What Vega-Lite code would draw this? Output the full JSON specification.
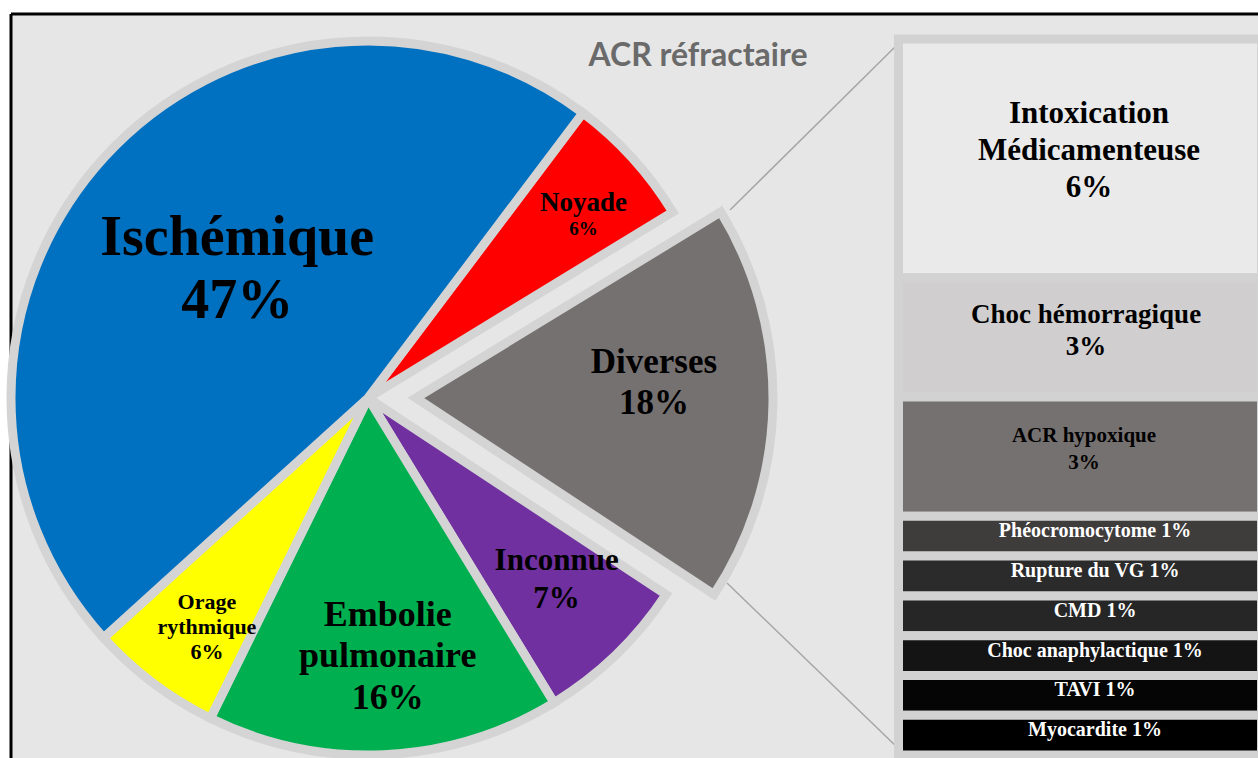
{
  "$schema": "https://vega.github.io/schema/vega-lite/v6.json",
  "width": 1247,
  "height": 744,
  "autosize": {"type": "none"},
  "padding": {"left": 11, "top": 14, "right": 0, "bottom": 0},
  "background": "white",
  "config": {"view": {"fill": "#e6e6e6", "stroke": null}, "axis": {"disable": true}},
  "resolve": {"scale": {"y": "independent", "color": "independent"}},
  "layer": [
    {
      "data": {"values": [
        {"cause": "Noyade", "pct": 6, "ord": 1},
        {"cause": "Diverses", "pct": 18, "ord": 2},
        {"cause": "Inconnue", "pct": 7, "ord": 3},
        {"cause": "Embolie pulmonaire", "pct": 16, "ord": 4},
        {"cause": "Orage rythmique", "pct": 6, "ord": 5},
        {"cause": "Ischémique", "pct": 47, "ord": 6}
      ]},
      "transform": [
        {"stack": "pct", "groupby": [], "sort": [{"field": "ord", "order": "ascending"}], "as": ["s0", "s1"]},
        {"calculate": "(datum.s0 + datum.s1) / 2", "as": "mid"},
        {"calculate": "datum.cause + ' ' + datum.pct + '%'", "as": "lab"},
        {"calculate": "datum.pct + '%'", "as": "pctLab"}
      ],
      "layer": [
        {
          "transform": [{"filter": "datum.ord === 1"}],
          "mark": {"type": "rule", "color": "black", "strokeWidth": 3},
          "encoding": {
            "x": {"datum": 0, "type": "quantitative", "axis": null, "scale": {"type": "linear", "domain": [0, 1247], "nice": false, "zero": false}},
            "y": {"datum": 0, "type": "quantitative", "axis": null, "scale": {"type": "linear", "domain": [0, 744], "nice": false, "zero": false, "reverse": true}},
            "y2": {"datum": 744}
          }
        },
        {
          "transform": [{"filter": "datum.ord === 1"}],
          "mark": {"type": "rule", "color": "black", "strokeWidth": 3},
          "encoding": {
            "x": {"datum": 0, "type": "quantitative", "axis": null},
            "x2": {"datum": 1247},
            "y": {"datum": 0, "type": "quantitative", "axis": null}
          }
        },
        {
          "transform": [{"filter": "datum.ord === 1"}],
          "mark": {"type": "rule", "color": "#a6a6a6", "strokeWidth": 1.5},
          "encoding": {
            "x": {"datum": 719, "type": "quantitative", "axis": null},
            "x2": {"datum": 889},
            "y": {"datum": 196, "type": "quantitative", "axis": null},
            "y2": {"datum": 28}
          }
        },
        {
          "transform": [{"filter": "datum.ord === 1"}],
          "mark": {"type": "rule", "color": "#a6a6a6", "strokeWidth": 1.5},
          "encoding": {
            "x": {"datum": 716, "type": "quantitative", "axis": null},
            "x2": {"datum": 889},
            "y": {"datum": 569, "type": "quantitative", "axis": null},
            "y2": {"datum": 736}
          }
        },
        {
          "transform": [{"filter": "datum.ord === 1"}],
          "mark": {"type": "text", "font": "Lato", "fontWeight": "bold", "fontSize": 32, "color": "#6a6a6a", "align": "center", "baseline": "alphabetic"},
          "encoding": {
            "x": {"datum": 687, "type": "quantitative", "axis": null},
            "y": {"datum": 52, "type": "quantitative", "axis": null},
            "text": {"value": "ACR réfractaire"}
          }
        },
        {
          "transform": [{"filter": "datum.cause !== 'Diverses'"}],
          "mark": {"type": "arc", "radius": 357, "stroke": "#d4d4d4", "strokeWidth": 9},
          "encoding": {
            "theta": {"field": "s0", "type": "quantitative", "stack": null, "scale": {"type": "linear", "domain": [0, 100], "range": [0.6458, 6.929], "zero": false, "nice": false}},
            "theta2": {"field": "s1"},
            "color": {"field": "cause", "type": "nominal", "legend": null, "scale": {
              "domain": ["Noyade", "Diverses", "Inconnue", "Embolie pulmonaire", "Orage rythmique", "Ischémique"],
              "range": ["#ff0000", "#767171", "#7030a0", "#00b050", "#ffff00", "#0070c0"]}},
            "x": {"datum": 357, "type": "quantitative", "axis": null},
            "y": {"datum": 384, "type": "quantitative", "axis": null}
          }
        },
        {
          "transform": [{"filter": "datum.cause === 'Diverses'"}],
          "mark": {"type": "arc", "radius": 357, "stroke": "#d4d4d4", "strokeWidth": 9},
          "encoding": {
            "theta": {"field": "s0", "type": "quantitative", "stack": null},
            "theta2": {"field": "s1"},
            "color": {"field": "cause", "type": "nominal", "legend": null},
            "x": {"datum": 405, "type": "quantitative", "axis": null},
            "y": {"datum": 384, "type": "quantitative", "axis": null}
          }
        },
        {
          "transform": [{"filter": "datum.cause === 'Ischémique'"}],
          "mark": {"type": "text", "radius": 184, "dx": 5, "dy": -36, "font": "Liberation Serif", "fontWeight": "bold", "fontSize": 56, "lineHeight": 63, "lineBreak": " ", "align": "center", "baseline": "middle", "color": "black"},
          "encoding": {
            "theta": {"field": "mid", "type": "quantitative", "stack": null},
            "text": {"field": "lab"},
            "x": {"datum": 357, "type": "quantitative", "axis": null},
            "y": {"datum": 384, "type": "quantitative", "axis": null}
          }
        },
        {
          "transform": [{"filter": "datum.cause === 'Noyade'"}],
          "mark": {"type": "text", "radius": 291, "font": "Liberation Serif", "fontWeight": "bold", "fontSize": 27, "align": "center", "baseline": "middle", "color": "black"},
          "encoding": {
            "theta": {"field": "mid", "type": "quantitative", "stack": null},
            "text": {"field": "cause"},
            "x": {"datum": 357, "type": "quantitative", "axis": null},
            "y": {"datum": 384, "type": "quantitative", "axis": null}
          }
        },
        {
          "transform": [{"filter": "datum.cause === 'Noyade'"}],
          "mark": {"type": "text", "radius": 291, "dy": 26, "font": "Liberation Serif", "fontWeight": "bold", "fontSize": 19, "align": "center", "baseline": "middle", "color": "black"},
          "encoding": {
            "theta": {"field": "mid", "type": "quantitative", "stack": null},
            "text": {"field": "pctLab"},
            "x": {"datum": 357, "type": "quantitative", "axis": null},
            "y": {"datum": 384, "type": "quantitative", "axis": null}
          }
        },
        {
          "transform": [{"filter": "datum.cause === 'Diverses'"}],
          "mark": {"type": "text", "radius": 238, "dy": -40, "font": "Liberation Serif", "fontWeight": "bold", "fontSize": 35, "lineHeight": 41, "lineBreak": " ", "align": "center", "baseline": "middle", "color": "black"},
          "encoding": {
            "theta": {"field": "mid", "type": "quantitative", "stack": null},
            "text": {"field": "lab"},
            "x": {"datum": 405, "type": "quantitative", "axis": null},
            "y": {"datum": 384, "type": "quantitative", "axis": null}
          }
        },
        {
          "transform": [{"filter": "datum.cause === 'Inconnue'"}],
          "mark": {"type": "text", "radius": 260, "dx": 8, "dy": -24, "font": "Liberation Serif", "fontWeight": "bold", "fontSize": 31, "lineHeight": 38, "lineBreak": " ", "align": "center", "baseline": "middle", "color": "black"},
          "encoding": {
            "theta": {"field": "mid", "type": "quantitative", "stack": null},
            "text": {"field": "lab"},
            "x": {"datum": 357, "type": "quantitative", "axis": null},
            "y": {"datum": 384, "type": "quantitative", "axis": null}
          }
        },
        {
          "transform": [{"filter": "datum.cause === 'Embolie pulmonaire'"}],
          "mark": {"type": "text", "radius": 259, "dx": 8, "dy": -42, "font": "Liberation Serif", "fontWeight": "bold", "fontSize": 36, "lineHeight": 41.5, "lineBreak": " ", "align": "center", "baseline": "middle", "color": "black"},
          "encoding": {
            "theta": {"field": "mid", "type": "quantitative", "stack": null},
            "text": {"field": "lab"},
            "x": {"datum": 357, "type": "quantitative", "axis": null},
            "y": {"datum": 384, "type": "quantitative", "axis": null}
          }
        },
        {
          "transform": [{"filter": "datum.cause === 'Orage rythmique'"}],
          "mark": {"type": "text", "radius": 281, "dx": 8, "dy": -20, "font": "Liberation Serif", "fontWeight": "bold", "fontSize": 22, "lineHeight": 25, "lineBreak": " ", "align": "center", "baseline": "middle", "color": "black"},
          "encoding": {
            "theta": {"field": "mid", "type": "quantitative", "stack": null},
            "text": {"field": "lab"},
            "x": {"datum": 357, "type": "quantitative", "axis": null},
            "y": {"datum": 384, "type": "quantitative", "axis": null}
          }
        }
      ]
    },
    {
      "data": {"values": [
        {"cause": "Intoxication Médicamenteuse", "pct": 6, "ord": 1},
        {"cause": "Choc hémorragique", "pct": 3, "ord": 2},
        {"cause": "ACR hypoxique", "pct": 3, "ord": 3},
        {"cause": "Phéocromocytome", "pct": 1, "ord": 4},
        {"cause": "Rupture du VG", "pct": 1, "ord": 5},
        {"cause": "CMD", "pct": 1, "ord": 6},
        {"cause": "Choc anaphylactique", "pct": 1, "ord": 7},
        {"cause": "TAVI", "pct": 1, "ord": 8},
        {"cause": "Myocardite", "pct": 1, "ord": 9}
      ]},
      "transform": [
        {"stack": "pct", "groupby": [], "sort": [{"field": "ord", "order": "ascending"}], "as": ["s0", "s1"]},
        {"calculate": "(datum.s0 + datum.s1) / 2", "as": "mid"},
        {"calculate": "datum.cause + ' ' + datum.pct + '%'", "as": "lab"},
        {"calculate": "datum.cause + '|' + datum.pct + '%'", "as": "lab2"}
      ],
      "layer": [
        {
          "mark": {"type": "rect", "stroke": "#d2d2d2", "strokeWidth": 9},
          "encoding": {
            "x": {"datum": 887.5, "type": "quantitative", "axis": null},
            "x2": {"datum": 1250.5},
            "y": {"field": "s0", "type": "quantitative", "axis": null, "scale": {"type": "linear", "domain": [-0.6285, 18.0755], "nice": false, "zero": false, "reverse": true}},
            "y2": {"field": "s1"},
            "color": {"field": "cause", "type": "nominal", "legend": null, "scale": {
              "domain": ["Intoxication Médicamenteuse", "Choc hémorragique", "ACR hypoxique", "Phéocromocytome", "Rupture du VG", "CMD", "Choc anaphylactique", "TAVI", "Myocardite"],
              "range": ["#eaeaea", "#d0cece", "#767171", "#3f3c3c", "#2b2b2b", "#262626", "#141414", "#050505", "#000000"]}}
          }
        },
        {
          "transform": [{"filter": "datum.ord === 1"}],
          "mark": {"type": "text", "dy": -44, "font": "Liberation Serif", "fontWeight": "bold", "fontSize": 31, "lineHeight": 37, "lineBreak": " ", "align": "center", "baseline": "middle", "color": "black"},
          "encoding": {
            "x": {"datum": 1078, "type": "quantitative", "axis": null},
            "y": {"field": "mid", "type": "quantitative", "axis": null},
            "text": {"field": "lab"}
          }
        },
        {
          "transform": [{"filter": "datum.ord === 2"}],
          "mark": {"type": "text", "dy": -22, "font": "Liberation Serif", "fontWeight": "bold", "fontSize": 27, "lineHeight": 32, "lineBreak": "|", "align": "center", "baseline": "middle", "color": "black"},
          "encoding": {
            "x": {"datum": 1075, "type": "quantitative", "axis": null},
            "y": {"field": "mid", "type": "quantitative", "axis": null},
            "text": {"field": "lab2"}
          }
        },
        {
          "transform": [{"filter": "datum.ord === 3"}],
          "mark": {"type": "text", "dy": -21, "font": "Liberation Serif", "fontWeight": "bold", "fontSize": 21, "lineHeight": 27, "lineBreak": "|", "align": "center", "baseline": "middle", "color": "black"},
          "encoding": {
            "x": {"datum": 1073, "type": "quantitative", "axis": null},
            "y": {"field": "mid", "type": "quantitative", "axis": null},
            "text": {"field": "lab2"}
          }
        },
        {
          "transform": [{"filter": "datum.ord >= 4"}],
          "mark": {"type": "text", "dy": -5, "font": "Liberation Serif", "fontWeight": "bold", "fontSize": 20, "align": "center", "baseline": "middle", "color": "white"},
          "encoding": {
            "x": {"datum": 1084, "type": "quantitative", "axis": null},
            "y": {"field": "mid", "type": "quantitative", "axis": null},
            "text": {"field": "lab"}
          }
        }
      ]
    }
  ]
}
